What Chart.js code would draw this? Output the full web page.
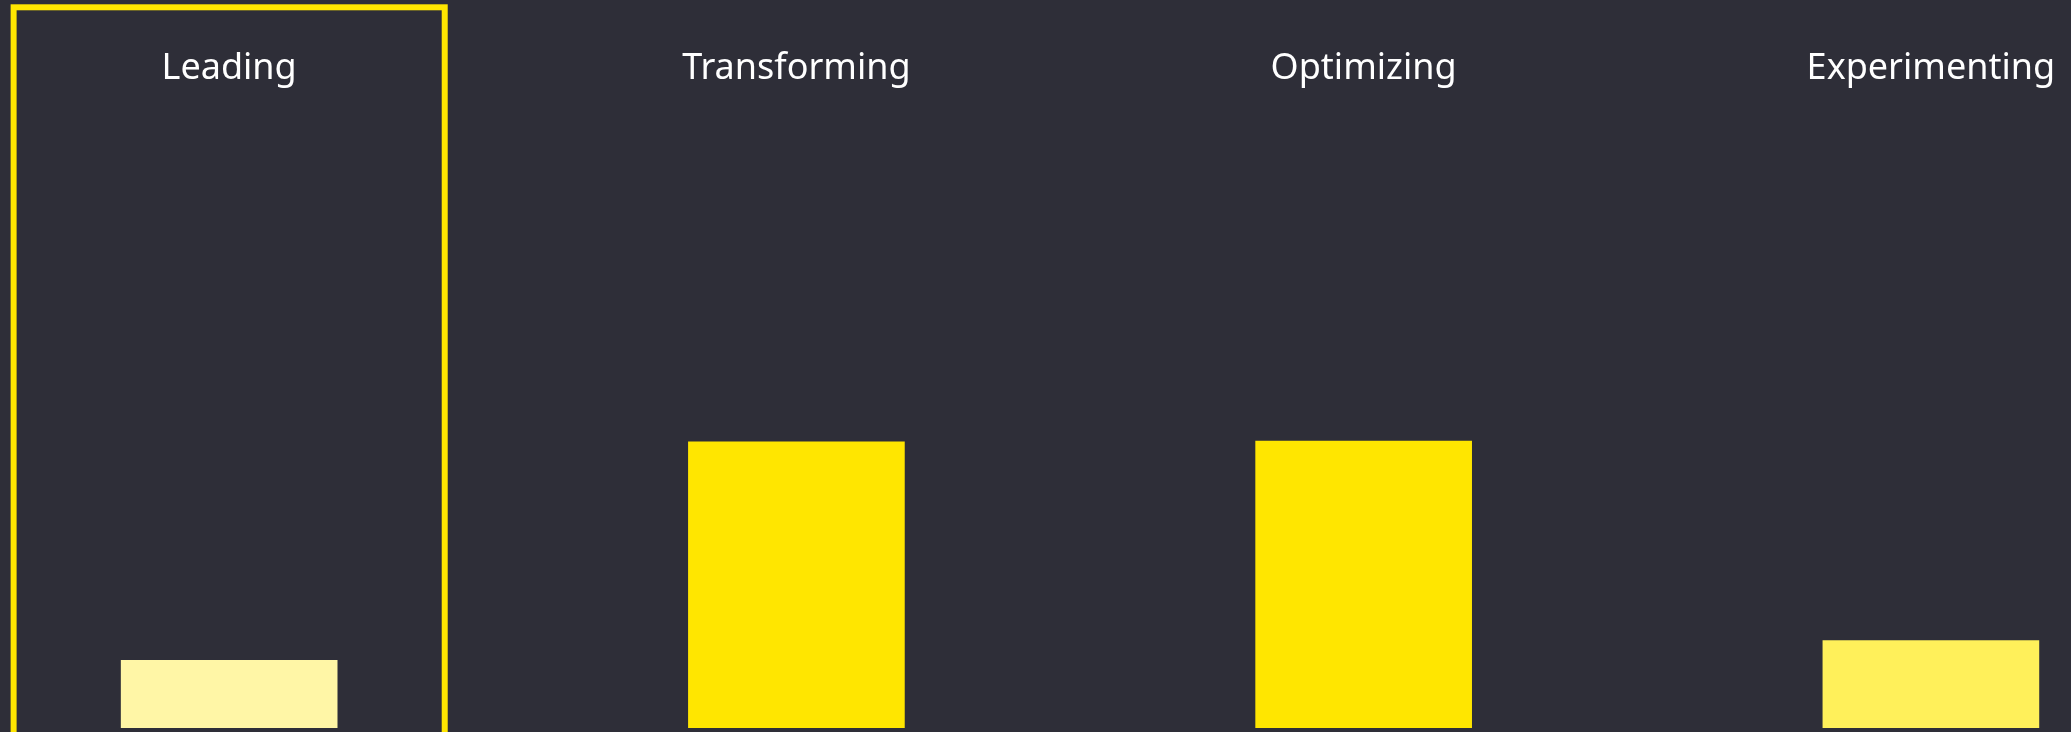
<!DOCTYPE html>
<html>
<head>
<meta charset="utf-8">
<script src="https://cdn.jsdelivr.net/npm/chart.js@4/dist/chart.umd.min.js"></script>
<style>
  html, body { margin: 0; padding: 0; background: #2E2E38; overflow: hidden; }
  #wrap { position: relative; width: 2071px; height: 732px; }
</style>
</head>
<body>
<div id="wrap"><canvas id="c"></canvas></div>
<script>
const categories = ['Leading', 'Transforming', 'Optimizing', 'Experimenting'];
const shares = [9.3, 39.3, 39.4, 12.0];
const barColors = ['#FFF6A6', '#FFE600', '#FFE600', '#FFF05A'];
const highlightIndex = 0;

const highlightPlugin = {
  id: 'highlight',
  afterDatasetsDraw(chart) {
    const x = chart.scales.x;
    const ctx = chart.ctx;
    const left = x.getPixelForValue(highlightIndex - 0.38);
    const right = x.getPixelForValue(highlightIndex + 0.38);
    ctx.save();
    ctx.strokeStyle = '#FFE600';
    ctx.lineWidth = 6;
    ctx.strokeRect(left, 7.3, right - left, chart.height + 10);
    ctx.restore();
  }
};

new Chart(document.getElementById('c'), {
  type: 'bar',
  data: {
    datasets: [{
      data: shares.map((v, i) => ({ x: i, y: v })),
      backgroundColor: barColors,
      borderWidth: 0,
      barThickness: 216
    }]
  },
  options: {
    responsive: true,
    maintainAspectRatio: false,
    animation: false,
    layout: { padding: { top: 0, bottom: 4, left: 0, right: 0 } },
    plugins: { legend: { display: false }, tooltip: { enabled: false } },
    scales: {
      x: {
        type: 'linear',
        position: 'top',
        offset: false,
        min: -0.404,
        max: 3.247,
        grid: { display: false, drawTicks: false },
        border: { display: false },
        afterFit(scale) { scale.height = 90; },
        ticks: {
          stepSize: 1,
          includeBounds: false,
          autoSkip: false,
          maxRotation: 0,
          padding: 0,
          color: '#FFFFFF',
          font: { family: '"Noto Sans", sans-serif', size: 36 },
          callback: (v) => categories[v] ?? ''
        }
      },
      y: {
        display: false,
        min: 0,
        max: 87.64
      }
    }
  },
  plugins: [highlightPlugin]
});
</script>
</body>
</html>
